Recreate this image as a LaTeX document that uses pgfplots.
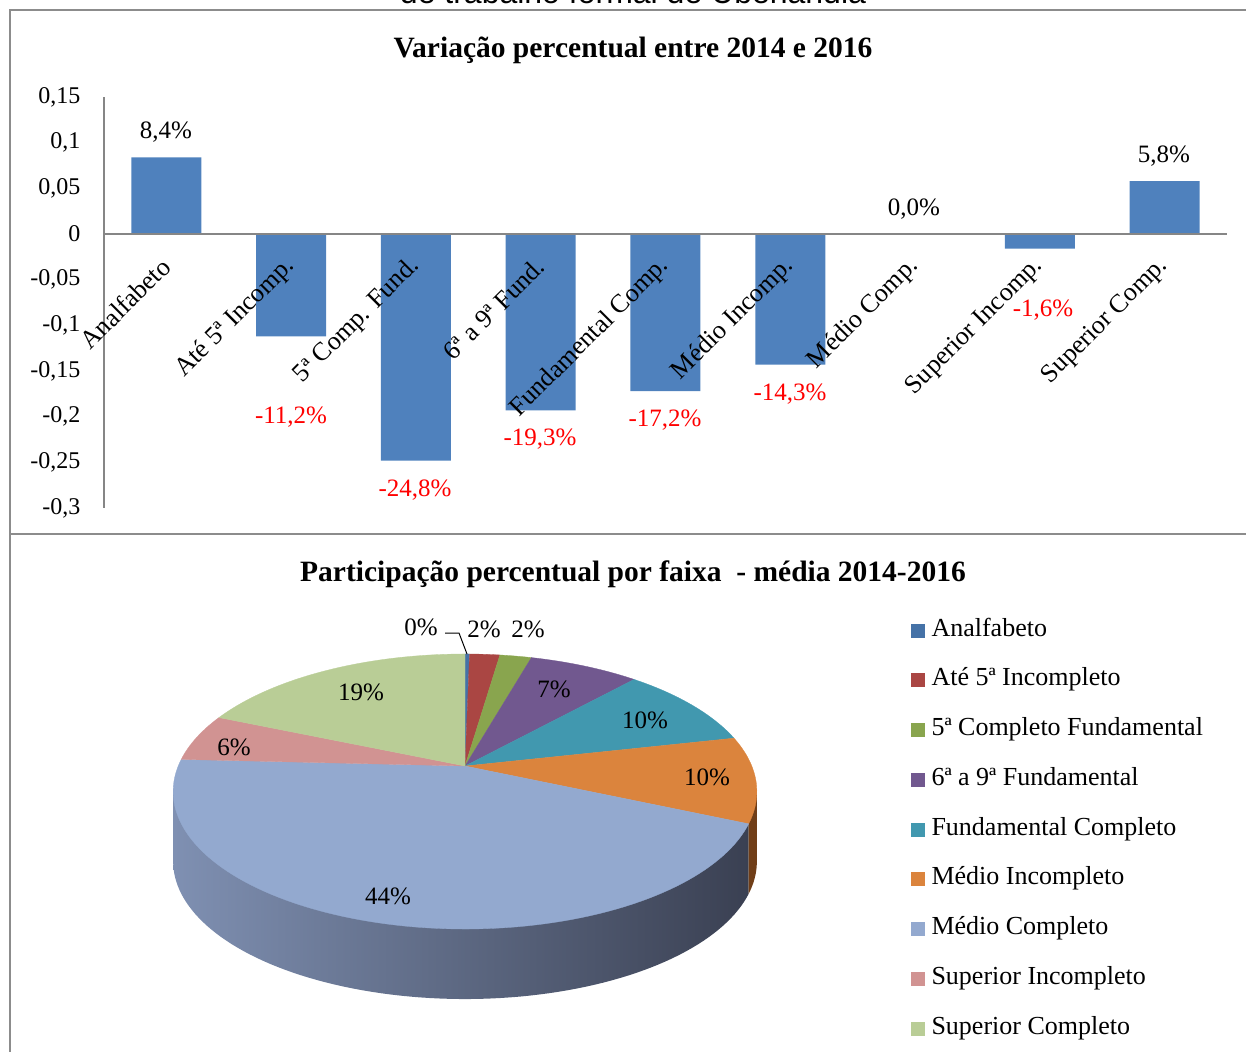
\documentclass[border=0pt]{standalone}
\usepackage{pgfplots}
\pgfplotsset{compat=1.18}
\usepackage{fontspec}
\setmainfont{Liberation Serif}
\newfontfamily\sansf{Liberation Sans}
\definecolor{barblue}{HTML}{4F81BD}
\definecolor{cA}{HTML}{4572A7}
\definecolor{cB}{HTML}{AA4643}
\definecolor{cC}{HTML}{89A54E}
\definecolor{cD}{HTML}{71588F}
\definecolor{cE}{HTML}{4198AF}
\definecolor{cF}{HTML}{DB843D}
\definecolor{cG}{HTML}{93A9CF}
\definecolor{cH}{HTML}{D19392}
\definecolor{cI}{HTML}{B9CD96}
\definecolor{sideL}{RGB}{127,144,178}
\definecolor{sideM}{RGB}{84,97,124}
\definecolor{sideR}{RGB}{58,64,82}
\definecolor{sideF}{RGB}{112,62,24}
\definecolor{bordergray}{HTML}{8C8C8C}
\definecolor{axisgray}{HTML}{868686}
% pie shares (percent), mean 2014-2016
\def\pA{0.3}\def\pB{2.0}\def\pC{2.1}\def\pD{7.3}\def\pE{9.8}
\def\pF{10.1}\def\pG{44.2}\def\pH{5.6}\def\pI{18.6}
\pgfmathsetmacro\eA{3.6*\pA}
\pgfmathsetmacro\eB{\eA+3.6*\pB}
\pgfmathsetmacro\eC{\eB+3.6*\pC}
\pgfmathsetmacro\eD{\eC+3.6*\pD}
\pgfmathsetmacro\eE{\eD+3.6*\pE}
\pgfmathsetmacro\eF{\eE+3.6*\pF}
\pgfmathsetmacro\eG{\eF+3.6*\pG}
\pgfmathsetmacro\eH{\eG+3.6*\pH}
\pgfmathsetmacro\eI{\eH+3.6*\pI}
\begin{document}
\begin{tikzpicture}[declare function={PW(\t)=1+0.1854*cos(\t); PX(\t)=465+286.8*sin(\t)/PW(\t); PY(\t)=766-132.8*cos(\t)/PW(\t);}]
\useasboundingbox (0,0) rectangle (1246pt,1052pt);
\begin{axis}[at={(0pt,0pt)}, anchor=south west, width=1246pt, height=1052pt,
  scale only axis, xmin=0, xmax=1246, ymin=0, ymax=1052, y dir=reverse,
  hide axis, clip=false,
  legend cell align=left,
  legend style={at={(axis cs:911,618)}, anchor=north west, draw=none, fill=none,
    inner sep=0pt, font=\fontsize{26}{30}\selectfont,
    nodes={inner sep=0pt, text height=18pt, text depth=6pt},
    row sep=25.75pt, column sep=7pt},
  legend image code/.code={\fill[#1] (0pt,-6.5pt) rectangle (13pt,6.5pt);},
  variable=\t]
% frame
\draw[bordergray, line width=2.5pt] (axis cs:1246,10) -- (axis cs:10,10) -- (axis cs:10,1052);
\draw[bordergray, line width=2.5pt] (axis cs:10,534) -- (axis cs:1246,534);
\node[anchor=base, font=\sansf\fontsize{32}{36}\selectfont] at (axis cs:633,4) {de trabalho formal de Uberlândia};
% titles
\node[font=\bfseries\fontsize{29.5}{34}\selectfont] at (axis cs:633,50) {Variação percentual entre 2014 e 2016};
\node[font=\bfseries\fontsize{29.5}{34}\selectfont] at (axis cs:633,574) {Participação percentual por faixa\ \ - média 2014-2016};
% pie side
\addplot[forget plot, draw=none, left color=sideL, middle color=sideM, right color=sideR, domain=\eF:259.32, samples=90]
  ({PX(\t)},{PY(\t)+70}) -- (axis cs:{PX(259.32)},{PY(259.32)}) -- (axis cs:{PX(\eF)},{PY(\eF)}) -- cycle;
\addplot[forget plot, draw=none, fill=sideF, domain=100.68:\eF, samples=20]
  ({PX(\t)},{PY(\t)+70}) -- (axis cs:{PX(\eF)},{PY(\eF)}) -- (axis cs:{PX(100.68)},{PY(100.68)}) -- cycle;
% pie top
\addplot[fill=cA, draw=cA, line width=0.3pt, domain=0:\eA, samples=6] ({PX(\t)},{PY(\t)}) -- (axis cs:465,766) -- cycle;
\addlegendentry{Analfabeto}
\addplot[fill=cB, draw=cB, line width=0.3pt, domain=\eA:\eB, samples=10] ({PX(\t)},{PY(\t)}) -- (axis cs:465,766) -- cycle;
\addlegendentry{Até 5ª Incompleto}
\addplot[fill=cC, draw=cC, line width=0.3pt, domain=\eB:\eC, samples=10] ({PX(\t)},{PY(\t)}) -- (axis cs:465,766) -- cycle;
\addlegendentry{5ª Completo Fundamental}
\addplot[fill=cD, draw=cD, line width=0.3pt, domain=\eC:\eD, samples=20] ({PX(\t)},{PY(\t)}) -- (axis cs:465,766) -- cycle;
\addlegendentry{6ª a 9ª Fundamental}
\addplot[fill=cE, draw=cE, line width=0.3pt, domain=\eD:\eE, samples=25] ({PX(\t)},{PY(\t)}) -- (axis cs:465,766) -- cycle;
\addlegendentry{Fundamental Completo}
\addplot[fill=cF, draw=cF, line width=0.3pt, domain=\eE:\eF, samples=25] ({PX(\t)},{PY(\t)}) -- (axis cs:465,766) -- cycle;
\addlegendentry{Médio Incompleto}
\addplot[fill=cG, draw=cG, line width=0.3pt, domain=\eF:\eG, samples=100] ({PX(\t)},{PY(\t)}) -- (axis cs:465,766) -- cycle;
\addlegendentry{Médio Completo}
\addplot[fill=cH, draw=cH, line width=0.3pt, domain=\eG:\eH, samples=15] ({PX(\t)},{PY(\t)}) -- (axis cs:465,766) -- cycle;
\addlegendentry{Superior Incompleto}
\addplot[fill=cI, draw=cI, line width=0.3pt, domain=\eH:\eI, samples=40] ({PX(\t)},{PY(\t)}) -- (axis cs:465,766) -- cycle;
\addlegendentry{Superior Completo}
% pie labels
\draw[black, line width=1pt] (axis cs:445,633) -- (axis cs:459,633) -- (axis cs:467,654);
\begin{scope}[every node/.style={font=\fontsize{25}{28}\selectfont}]
\node at (axis cs:421,627) {0\%};
\node at (axis cs:484,629) {2\%};
\node at (axis cs:528,629) {2\%};
\node at (axis cs:554,689) {7\%};
\node at (axis cs:645,720) {10\%};
\node at (axis cs:707,777) {10\%};
\node at (axis cs:388,896) {44\%};
\node at (axis cs:234,747) {6\%};
\node at (axis cs:361,692) {19\%};
% bar data labels
\node at (axis cs:166,132) {8,4\%};
\node[red] at (axis cs:291,417) {-11,2\%};
\node[red] at (axis cs:415,490) {-24,8\%};
\node[red] at (axis cs:540,439) {-19,3\%};
\node[red] at (axis cs:665,420) {-17,2\%};
\node[red] at (axis cs:790,394) {-14,3\%};
\node at (axis cs:914,209) {0,0\%};
\node[red] at (axis cs:1043,310) {-1,6\%};
\node at (axis cs:1164,156) {5,8\%};
\end{scope}
\end{axis}
\begin{axis}[at={(104pt,544pt)}, anchor=south west, width=1123pt, height=411pt,
  scale only axis, xmin=-0.5, xmax=8.5, ymin=-0.3, ymax=0.15,
  axis on top,
  axis x line=middle, axis y line=left,
  axis line style={axisgray, line width=1.3pt, -},
  major tick length=0pt,
  ytick={-0.3,-0.25,-0.2,-0.15,-0.1,-0.05,0,0.05,0.1,0.15},
  yticklabels={{-0,3},{-0,25},{-0,2},{-0,15},{-0,1},{-0,05},{0},{0,05},{0,1},{0,15}},
  xtick={0,1,2,3,4,5,6,7,8},
  xticklabels={Analfabeto, Até 5ª Incomp., 5ª Comp. Fund., 6ª a 9ª Fund., Fundamental Comp., Médio Incomp., Médio Comp., Superior Incomp., Superior Comp.},
  yticklabel style={font=\fontsize{24}{28}\selectfont, anchor=east, xshift=-20pt},
  xticklabel style={font=\fontsize{26}{30}\selectfont, xshift=2pt, yshift=-26pt, rotate=45, anchor=east},
  clip=false]
\addplot[ybar, bar width=70pt, fill=barblue, draw=none] coordinates {(0,0.084) (1,-0.112) (2,-0.248) (3,-0.193) (4,-0.172) (5,-0.143) (6,0) (7,-0.016) (8,0.058)};
\end{axis}
\end{tikzpicture}
\end{document}
